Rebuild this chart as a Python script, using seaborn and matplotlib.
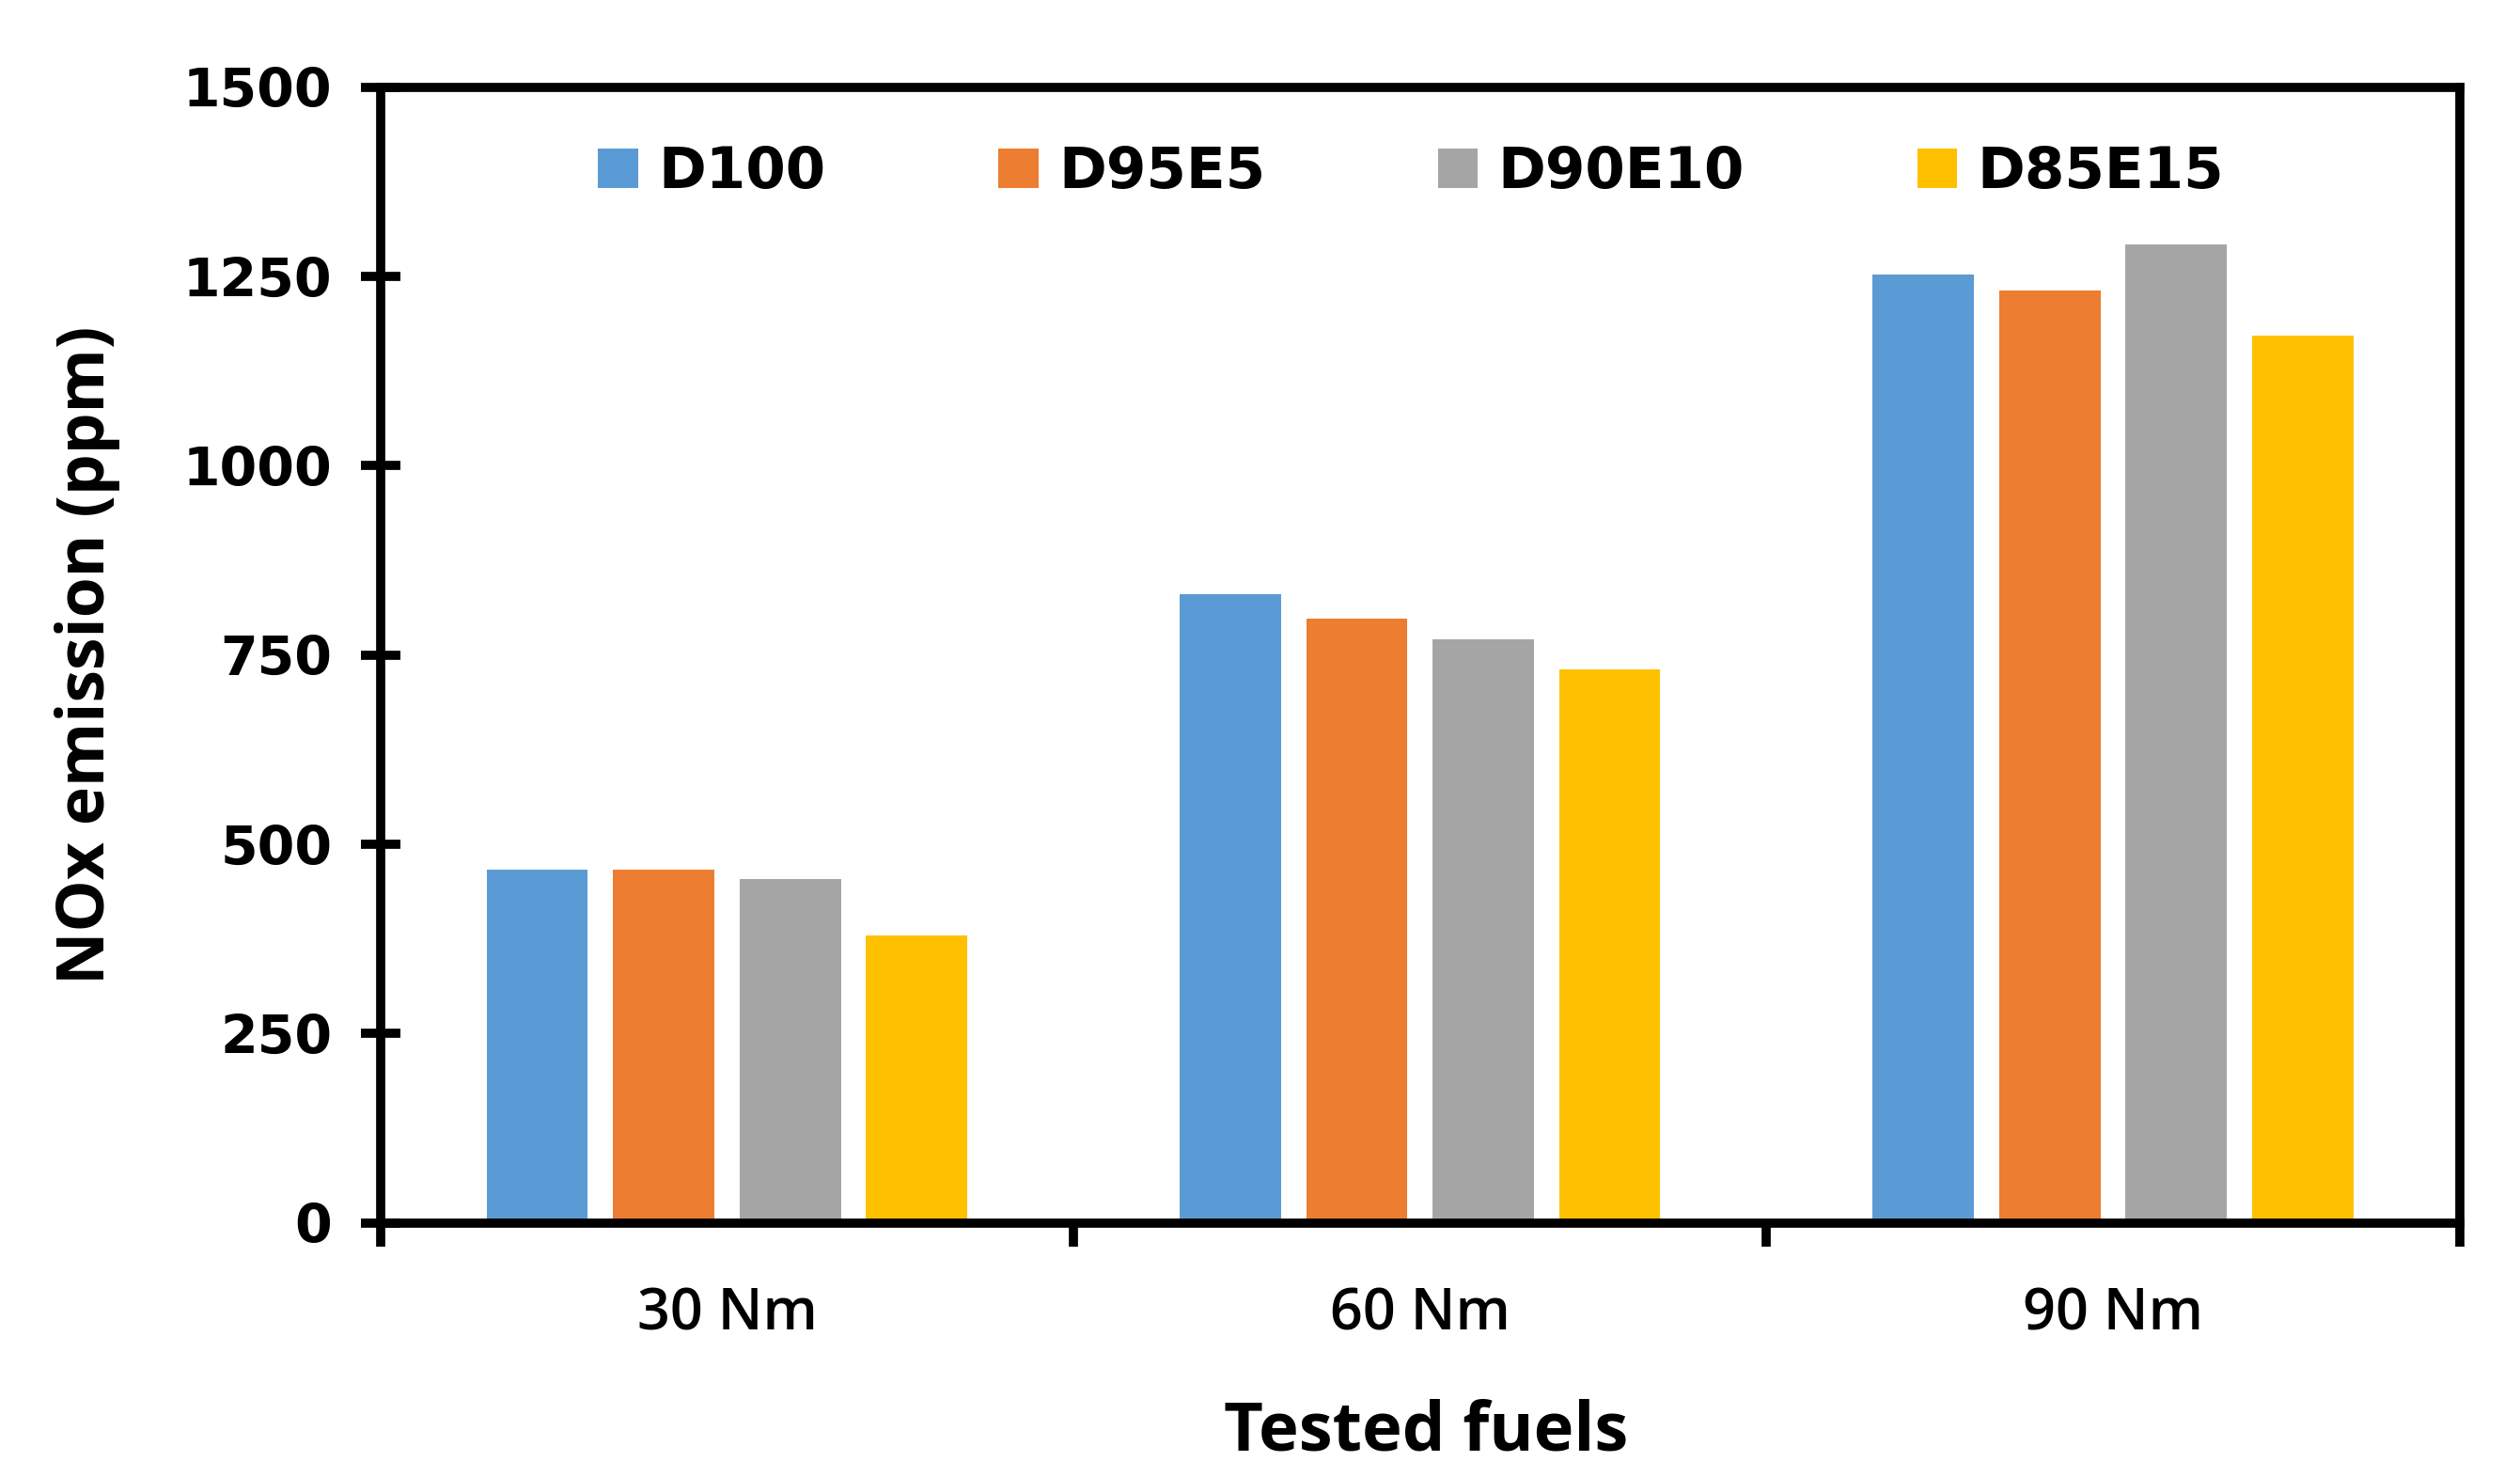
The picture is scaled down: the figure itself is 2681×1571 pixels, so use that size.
import numpy as np
import pandas as pd
import matplotlib
matplotlib.use("Agg")
import matplotlib.pyplot as plt
import seaborn as sns

# ─────────────────────────── data ────────────────────────────
loads = ["30 Nm", "60 Nm", "90 Nm"]
fuels = ["D100", "D95E5", "D90E10", "D85E15"]
d100   = [466, 830, 1252]
d95e5  = [466, 798, 1232]
d90e10 = [454, 771, 1292]
d85e15 = [380, 731, 1172]
colors = ["#5B9BD5", "#ED7D31", "#A5A5A5", "#FFC000"]

rows = []
for fuel, vals in zip(fuels, [d100, d95e5, d90e10, d85e15]):
    for load, v in zip(loads, vals):
        rows.append({"load": load, "fuel": fuel, "nox": v})
df = pd.DataFrame(rows)

# ─────────────────────────── plot ────────────────────────────
sns.set_style("white", {"text.color": "black", "axes.labelcolor": "black",
                        "xtick.color": "black", "ytick.color": "black",
                        "xtick.bottom": True, "ytick.left": True})
plt.rcParams["font.family"] = ["DejaVu Sans"]

fig = plt.figure(figsize=(13.405, 7.855), dpi=200)
ax = fig.add_axes([0.151, 0.172, 0.825, 0.769])

sns.barplot(
    data=df, x="load", y="nox", hue="fuel",
    order=loads, hue_order=fuels, palette=colors,
    width=0.73, gap=0.2, saturation=1, errorbar=None,
    linewidth=0, ax=ax,
)

ax.set_xlim(-0.5, 2.5)
ax.set_ylim(0, 1500)
ax.set_yticks(np.arange(0, 1501, 250))

# Excel-style: ticks at category boundaries, labels at centres
ax.set_xticks([-0.5, 0.5, 1.5, 2.5])
ax.set_xticklabels([])
ax.set_xticks([0, 1, 2], minor=True)
ax.set_xticklabels(loads, minor=True, fontsize=22, fontfamily="Open Sans",
                   fontweight="semibold")
ax.tick_params(axis="x", which="major", bottom=True, direction="out",
               length=9, width=3.5)
ax.tick_params(axis="x", which="minor", bottom=True, length=0, pad=24)
ax.tick_params(axis="y", left=True, direction="inout", length=15, width=3.5,
               pad=11, labelsize=20.5)
for lab in ax.get_yticklabels():
    lab.set_fontweight("bold")

for sp in ax.spines.values():
    sp.set_visible(True)
    sp.set_linewidth(3.5)
    sp.set_color("black")

ax.set_xlabel("")
ax.set_ylabel("NOx emission (ppm)", fontsize=25, fontweight="bold",
              fontfamily="Open Sans", labelpad=24)
fig.text(0.566, 0.03, "Tested fuels", ha="center", va="center",
         fontsize=26, fontweight="bold", fontfamily="Open Sans")

handles, labels = ax.get_legend_handles_labels()
ax.legend_.remove()
leg = fig.legend(handles, labels, loc="center", bbox_to_anchor=(0.56, 0.883),
                 ncol=4, frameon=False, handlelength=0.7, handleheight=0.7,
                 handletextpad=0.35, columnspacing=3.0,
                 prop={"size": 22, "weight": "bold"})

fig.savefig("out.png", dpi=200)
